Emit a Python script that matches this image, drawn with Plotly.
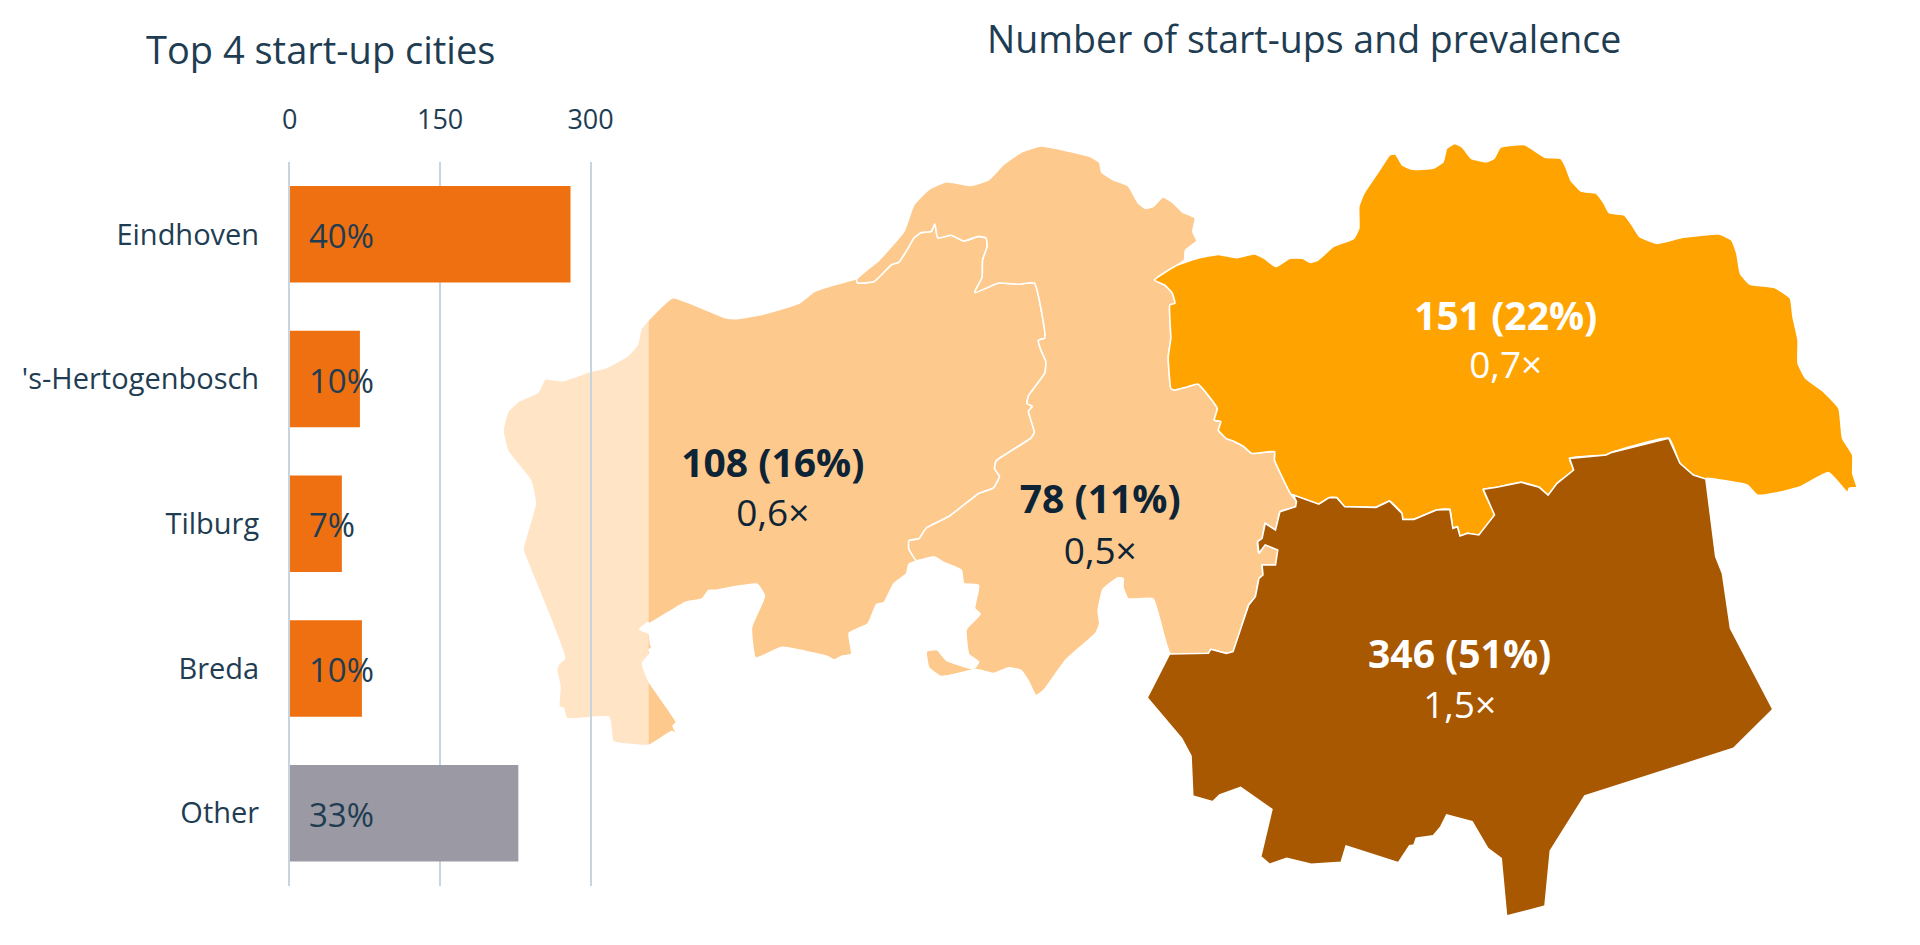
import plotly.graph_objects as go

# ---------- bar chart data ----------
CITIES = ["Eindhoven", "'s-Hertogenbosch", "Tilburg", "Breda", "Other"]
CITY_COUNTS = [280, 70, 52, 72, 228]
CITY_SHARES = ["40%", "10%", "7%", "10%", "33%"]
CITY_TICKS = [0, 150, 300]

# ---------- map data: labels per region ----------
REGION_COUNT_LABELS = ["108 (16%)", "78 (11%)", "151 (22%)", "346 (51%)"]
REGION_PREV_LABELS = ["0,6×", "0,5×", "0,7×", "1,5×"]
LABEL_X = [772, 1099, 1504, 1458]
COUNT_LABEL_Y = [467, 503, 320, 658]
PREV_LABEL_Y = [517, 555, 369, 709]


# ---------- region outlines, traced in three frames of the map ----------
def f2(pts):
    return [(480 + x / 2.01, 130 + y / 2.613) for x, y in pts]


def f3(pts):
    return [(1120 + x / 1.96, 130 + y / 3.0) for x, y in pts]


def f4(pts):
    return [(1120 + x / 2.24, 430 + y / 3.0) for x, y in pts]


def f5(pts):
    return [(540 + x / 3.0, 600 + y / 3.0) for x, y in pts]


WEST_TOP = f2([(322, 520), (338, 495), (386, 438), (490, 490), (515, 493), (570, 480), (640, 452), (670, 422), (755, 390)])
BORDER_WEST_NORTH = f2([
    (757, 400), (790, 396), (825, 352), (840, 345), (860, 305), (870, 282), (885, 268), (905, 265), (912, 245),
    (918, 282), (945, 275), (970, 290), (1000, 278), (1015, 282), (1017, 305), (1008, 340), (1007, 385), (992, 425),
    (1040, 400), (1080, 403), (1112, 400), (1133, 543), (1120, 550), (1125, 575), (1135, 605), (1133, 635),
    (1100, 695), (1097, 715), (1108, 722), (1100, 735), (1112, 790), (1105, 805), (1035, 865), (1032, 885),
    (1042, 905), (1030, 935), (1000, 950), (985, 965), (940, 1010), (895, 1040), (880, 1068), (860, 1073),
    (860, 1095), (875, 1125)])
WEST_SOUTH = f2([
    (860, 1135), (855, 1160), (830, 1185), (810, 1235), (795, 1240), (778, 1290), (740, 1315), (745, 1370),
    (725, 1375), (710, 1385), (695, 1375), (605, 1352), (552, 1380), (544, 1300), (570, 1218), (555, 1187),
    (470, 1203), (458, 1203), (445, 1225), (410, 1235), (338, 1290)])
WEST_TAIL = f5([
    (322, 68), (297, 88), (325, 100), (330, 135), (335, 140), (325, 150), (328, 160), (305, 190), (325, 245),
    (407, 367), (397, 378), (407, 400), (393, 395), (325, 436), (295, 436), (217, 425), (205, 352), (78, 356),
    (68, 325), (55, 320), (58, 260), (48, 208), (55, 190), (72, 175)])
WEST_LEFT = f2([
    (90, 1115), (85, 1095), (110, 975), (100, 915), (55, 840), (45, 785), (55, 735), (75, 710), (115, 685),
    (130, 650), (165, 655), (222, 630), (250, 622), (295, 590), (315, 560)])

NORTH_TOP = f2([
    (800, 340), (850, 265), (870, 195), (900, 155), (935, 135), (985, 145), (1020, 130), (1050, 90), (1085, 58),
    (1125, 42), (1225, 70), (1243, 85), (1247, 110), (1270, 130), (1300, 145), (1320, 190), (1335, 205),
    (1350, 200), (1370, 175), (1390, 190), (1410, 215), (1435, 230), (1430, 265), (1438, 290), (1415, 315),
    (1413, 340)])
BORDER_NORTH_EAST = f3([
    (65, 450), (85, 465), (100, 490), (105, 520), (95, 525), (97, 625), (92, 680), (97, 775), (103, 780),
    (130, 770), (150, 762), (188, 835), (182, 870), (195, 875), (190, 900), (205, 925), (222, 935), (240, 950),
    (255, 970), (300, 965), (300, 990), (332, 1092)])
BORDER_NORTH_BROWN = f4([
    (392, 215), (390, 230), (355, 245), (345, 300), (322, 280), (315, 325), (305, 335), (308, 370), (322, 345),
    (350, 360), (345, 405), (315, 405), (317, 435), (308, 445), (300, 500), (285, 525), (250, 665), (235, 670),
    (200, 658), (195, 670), (110, 672)])
NORTH_SOUTH = f2([
    (1350, 1225), (1300, 1225), (1290, 1195), (1290, 1172), (1280, 1170), (1250, 1200), (1240, 1255), (1243, 1290),
    (1235, 1315), (1175, 1385), (1130, 1465), (1115, 1478), (1100, 1440), (1085, 1412), (1060, 1405), (1030, 1420),
    (995, 1410), (925, 1428), (900, 1405), (895, 1362), (917, 1358), (935, 1385), (990, 1408), (1000, 1390),
    (980, 1370), (975, 1305), (1003, 1265), (992, 1250), (1000, 1190), (970, 1185), (965, 1150), (930, 1130),
    (910, 1115)])

EAST_TOP = f3([
    (110, 405), (150, 385), (190, 373), (225, 383), (260, 372), (280, 385), (303, 410), (330, 385), (355, 385),
    (370, 397), (385, 390), (415, 350), (455, 325), (465, 295), (465, 230), (475, 190), (510, 110), (525, 75),
    (537, 72), (550, 105), (570, 118), (610, 115), (630, 95), (637, 55), (653, 40), (668, 52), (685, 85), (715, 95),
    (730, 85), (742, 52), (790, 44), (830, 82), (860, 85), (870, 110), (880, 150), (900, 183), (930, 190), (945, 220),
    (955, 248), (985, 255), (1000, 285), (1015, 320), (1050, 340), (1100, 322), (1170, 312), (1195, 330), (1205, 370),
    (1212, 430), (1230, 462), (1280, 473), (1310, 505), (1315, 560), (1325, 630), (1325, 700), (1340, 745), (1375, 785),
    (1405, 835), (1412, 925), (1432, 975), (1432, 1030), (1440, 1072), (1425, 1075), (1422, 1088), (1385, 1028),
    (1330, 1070), (1285, 1088), (1245, 1095), (1225, 1065), (1145, 1045)])
BORDER_EAST_BROWN = f4([
    (1308, 147), (1280, 135), (1250, 100), (1225, 25), (1095, 68), (1085, 75), (1003, 85), (1012, 120), (975, 160),
    (955, 195), (935, 172), (895, 157), (840, 172), (810, 178), (835, 255), (800, 315), (775, 310), (758, 318),
    (752, 290), (742, 295), (735, 238), (705, 240), (655, 268), (630, 268), (628, 250), (600, 213), (570, 232),
    (545, 232), (500, 230), (482, 203), (465, 203), (442, 222), (385, 195)])
BROWN_OUTER = f4([
    (1330, 380), (1345, 430), (1363, 595), (1458, 838), (1370, 955), (1037, 1098), (960, 1262), (948, 1428), (915, 1440),
    (862, 1458), (850, 1285), (820, 1255), (785, 1175), (728, 1155), (715, 1190), (698, 1217), (660, 1225), (655, 1245),
    (645, 1247), (620, 1298), (503, 1248), (492, 1297), (425, 1303), (370, 1285), (332, 1303), (312, 1280), (337, 1138),
    (267, 1072), (220, 1095), (205, 1115), (160, 1098), (156, 978), (135, 925), (58, 803), (108, 672)])

WEST = WEST_TOP + BORDER_WEST_NORTH + WEST_SOUTH + WEST_TAIL + WEST_LEFT
NORTH = WEST_TOP[-1:] + NORTH_TOP + BORDER_NORTH_EAST + BORDER_NORTH_BROWN + NORTH_SOUTH + BORDER_WEST_NORTH[::-1]
EAST = EAST_TOP + BORDER_EAST_BROWN + BORDER_NORTH_EAST[::-1]
BROWN = BORDER_EAST_BROWN[::-1] + BROWN_OUTER + BORDER_NORTH_BROWN[::-1]

INK = "#1f3d52"
FONT = "Open Sans"
LIGHT = "#fec98c"
ORANGE = "#ffa300"
BROWN_COL = "#a85800"
BAR_ORANGE = "#ee7011"
BAR_GREY = "#9b99a3"
GRID = "#c8d5df"

fig = go.Figure()

for pts, col, shape in [(WEST, LIGHT, "spline"), (NORTH, LIGHT, "spline"), (EAST, ORANGE, "spline"), (BROWN, BROWN_COL, "linear")]:
    fig.add_trace(go.Scatter(
        x=[p[0] for p in pts] + [pts[0][0]], y=[p[1] for p in pts] + [pts[0][1]],
        mode="lines", fill="toself", fillcolor=col,
        line=dict(color="#ffffff", width=1.6, shape=shape, smoothing=0.4), hoverinfo="skip", showlegend=False,
        xaxis="x", yaxis="y"))

LABEL_COLORS = ["#0d2436", "#0d2436", "#ffffff", "#ffffff"]
fig.add_trace(go.Scatter(
    x=LABEL_X, y=COUNT_LABEL_Y, mode="text",
    text=[f"<b>{t}</b>" for t in REGION_COUNT_LABELS],
    textfont=dict(family=FONT, size=39, color=LABEL_COLORS),
    showlegend=False, xaxis="x", yaxis="y"))
fig.add_trace(go.Scatter(
    x=LABEL_X, y=PREV_LABEL_Y, mode="text", text=REGION_PREV_LABELS,
    textfont=dict(family=FONT, size=37, color=LABEL_COLORS),
    showlegend=False, xaxis="x", yaxis="y"))

fig.add_trace(go.Bar(
    y=CITIES, x=CITY_COUNTS, orientation="h",
    marker=dict(color=[BAR_ORANGE] * 4 + [BAR_GREY], line=dict(width=0)),
    showlegend=False, xaxis="x2", yaxis="y2"))

for city, share in zip(CITIES, CITY_SHARES):
    fig.add_annotation(x=0, y=city, xref="x2", yref="y2", text=share, showarrow=False,
                       xanchor="left", xshift=17, yshift=-1,
                       font=dict(family=FONT, size=33, color=INK))

fig.add_annotation(x=320, y=49, xref="x", yref="y", text="Top 4 start-up cities", showarrow=False,
                   font=dict(family=FONT, size=38, color=INK))
fig.add_annotation(x=1303, y=38, xref="x", yref="y", text="Number of start-ups and prevalence", showarrow=False,
                   font=dict(family=FONT, size=37.5, color=INK))

fig.update_layout(
    width=1920, height=945, margin=dict(l=0, r=0, t=0, b=0),
    paper_bgcolor="#ffffff", plot_bgcolor="rgba(255,255,255,0.5)",
    bargap=0.333,
    xaxis=dict(domain=[0, 1], range=[8, 1917.8], visible=False),
    yaxis=dict(domain=[0, 1], range=[945, 0], visible=False),
    xaxis2=dict(domain=[282.9 / 1920, 643.4 / 1920], range=[0, 358], side="top", anchor="y2",
                tickmode="array", tickvals=CITY_TICKS, showgrid=True, gridcolor=GRID, gridwidth=1.5,
                zeroline=False, showline=False, ticks="", ticklabelstandoff=27,
                tickfont=dict(family=FONT, size=27, color=INK)),
    yaxis2=dict(domain=[1 - 885.5 / 945, 1 - 162 / 945], anchor="x2", autorange="reversed",
                showgrid=False, zeroline=False, showline=True, linecolor=GRID, linewidth=1.5,
                ticks="", ticklabelstandoff=23,
                tickfont=dict(family=FONT, size=29, color=INK)),
)
fig.write_html("out.html", config={"displayModeBar": False}, post_script="document.body.style.margin='0';")
